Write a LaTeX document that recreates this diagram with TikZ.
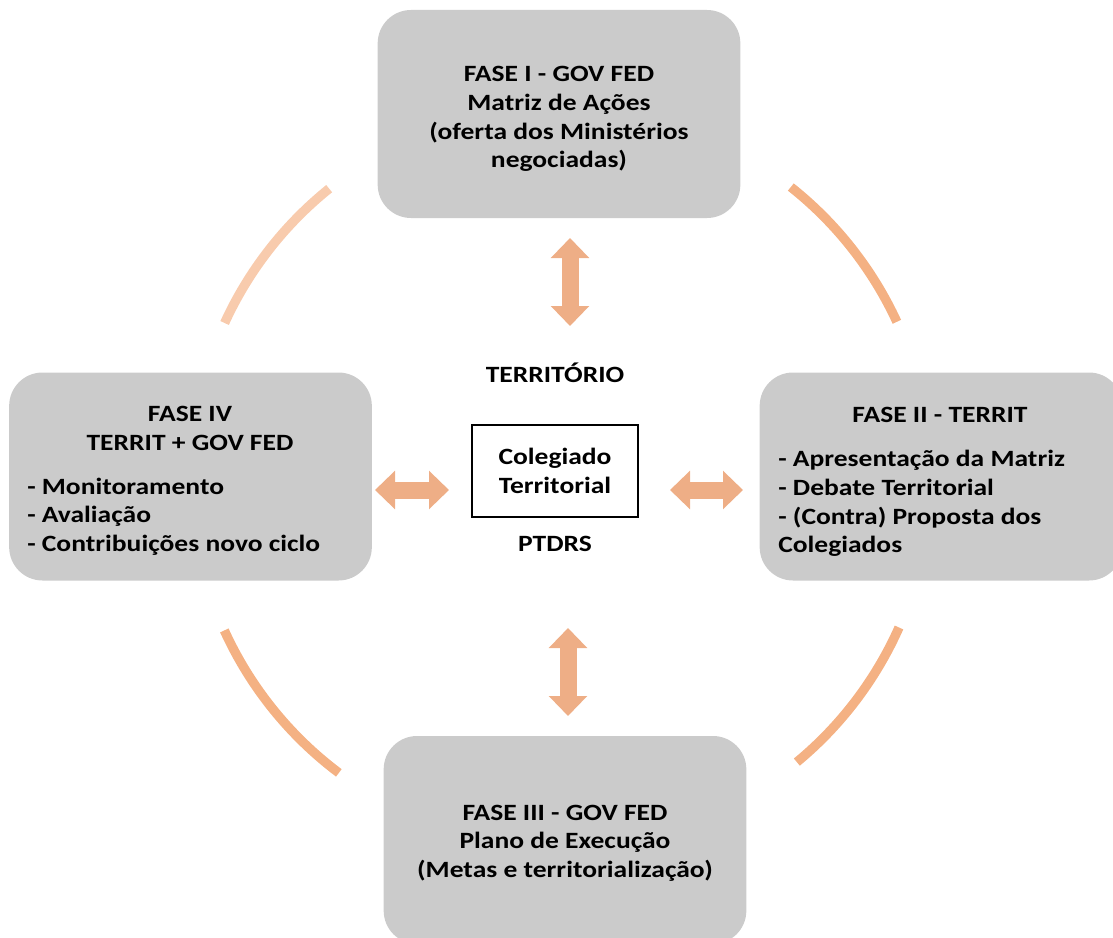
\documentclass[tikz,border=0pt]{standalone}
\usepackage{fontspec}
\setmainfont[FakeStretch=1.18]{Carlito}
\usetikzlibrary{arrows.meta, positioning}
\definecolor{boxgray}{HTML}{CBCBCB}
\definecolor{peach}{HTML}{F4B183}
\definecolor{lightpeach}{HTML}{F8CBAD}
\definecolor{arrowpeach}{HTML}{EEAE86}

\begin{document}
\begin{tikzpicture}[
    x=0.75pt, y=-0.75pt,
    font=\fontsize{17.5}{21.5}\selectfont\bfseries,
    phase/.style={fill=boxgray, rounded corners=25pt, minimum width=272pt, minimum height=156pt, align=center},
    core/.style={draw, line width=1pt, minimum width=124.5pt, minimum height=69pt, align=center},
    cyc/.style={line width=7pt, peach},
    fat/.style={line width=12.75pt, arrowpeach, {Triangle[width=28pt,length=15pt]}-{Triangle[width=28pt,length=15pt]}},
    tag/.style={inner sep=0pt}
  ]
    \useasboundingbox (0,0) rectangle (1113,938);
    \clip (0,0) rectangle (1113,938);

    % Phases
    \node[phase] (p1) at (559,114) {};
    \node[phase] (p2) at (941,476.5) {};
    \node[phase] (p3) at (565,840) {};
    \node[phase] (p4) at (190.5,476.5) {};

    \node[tag, align=center] (p1t) at (559,119) {FASE I - GOV FED\\Matriz de Ações\\(oferta dos Ministérios\\negociadas)};
    \node[tag, align=center] (p3t) at (565,843) {\fontsize{17.5}{22}\selectfont FASE III - GOV FED\\Plano de Execução\\(Metas e territorialização)};
    \node[tag, align=center] (p2t) at (940,415) {FASE II - TERRIT};
    \node[tag, align=left, anchor=west] (p2l) at (778,503.5) {- Apresentação da Matriz\\- Debate Territorial\\- (Contra) Proposta dos\\Colegiados};
    \node[tag, align=center] (p4t) at (190,428.5) {FASE IV\\TERRIT + GOV FED};
    \node[tag, align=left, anchor=west] (p4l) at (27,516.5) {- Monitoramento\\- Avaliação\\- Contribuições novo ciclo};

    % Centre
    \node[core] (col) at (555,471) {Colegiado\\Territorial};
    \node[tag, above=31pt of col.north] (terr) {TERRITÓRIO};
    \node[tag, below=14pt of col.south] (ptdrs) {PTDRS};

    % Cycle arcs
    \coordinate (c) at (561,477);
    \draw[cyc, lightpeach] ([shift={(155.4:277.5pt)}]c) arc[start angle=155.4, end angle=128.8, radius=277.5pt];
    \draw[cyc] ([shift={(51.6:277.5pt)}]c) arc[start angle=51.6, end angle=24.8, radius=277.5pt];
    \draw[cyc] ([shift={(-24:277.5pt)}]c) arc[start angle=-24, end angle=-50.4, radius=277.5pt];
    \draw[cyc] ([shift={(-155.5:277.5pt)}]c) arc[start angle=-155.5, end angle=-126.9, radius=277.5pt];

    % Double arrows
    \coordinate (a1) at (570,238);
    \coordinate (a1e) at (570,326);
    \coordinate (a2) at (670,490);
    \coordinate (a2e) at (743,490);
    \coordinate (a3) at (568,628);
    \coordinate (a3e) at (568,716);
    \coordinate (a4) at (375,490);
    \coordinate (a4e) at (449,490);

    \draw[fat] (a1) -- (a1e);
    \draw[fat] (a2) -- (a2e);
    \draw[fat] (a3) -- (a3e);
    \draw[fat] (a4) -- (a4e);
\end{tikzpicture}
\end{document}
